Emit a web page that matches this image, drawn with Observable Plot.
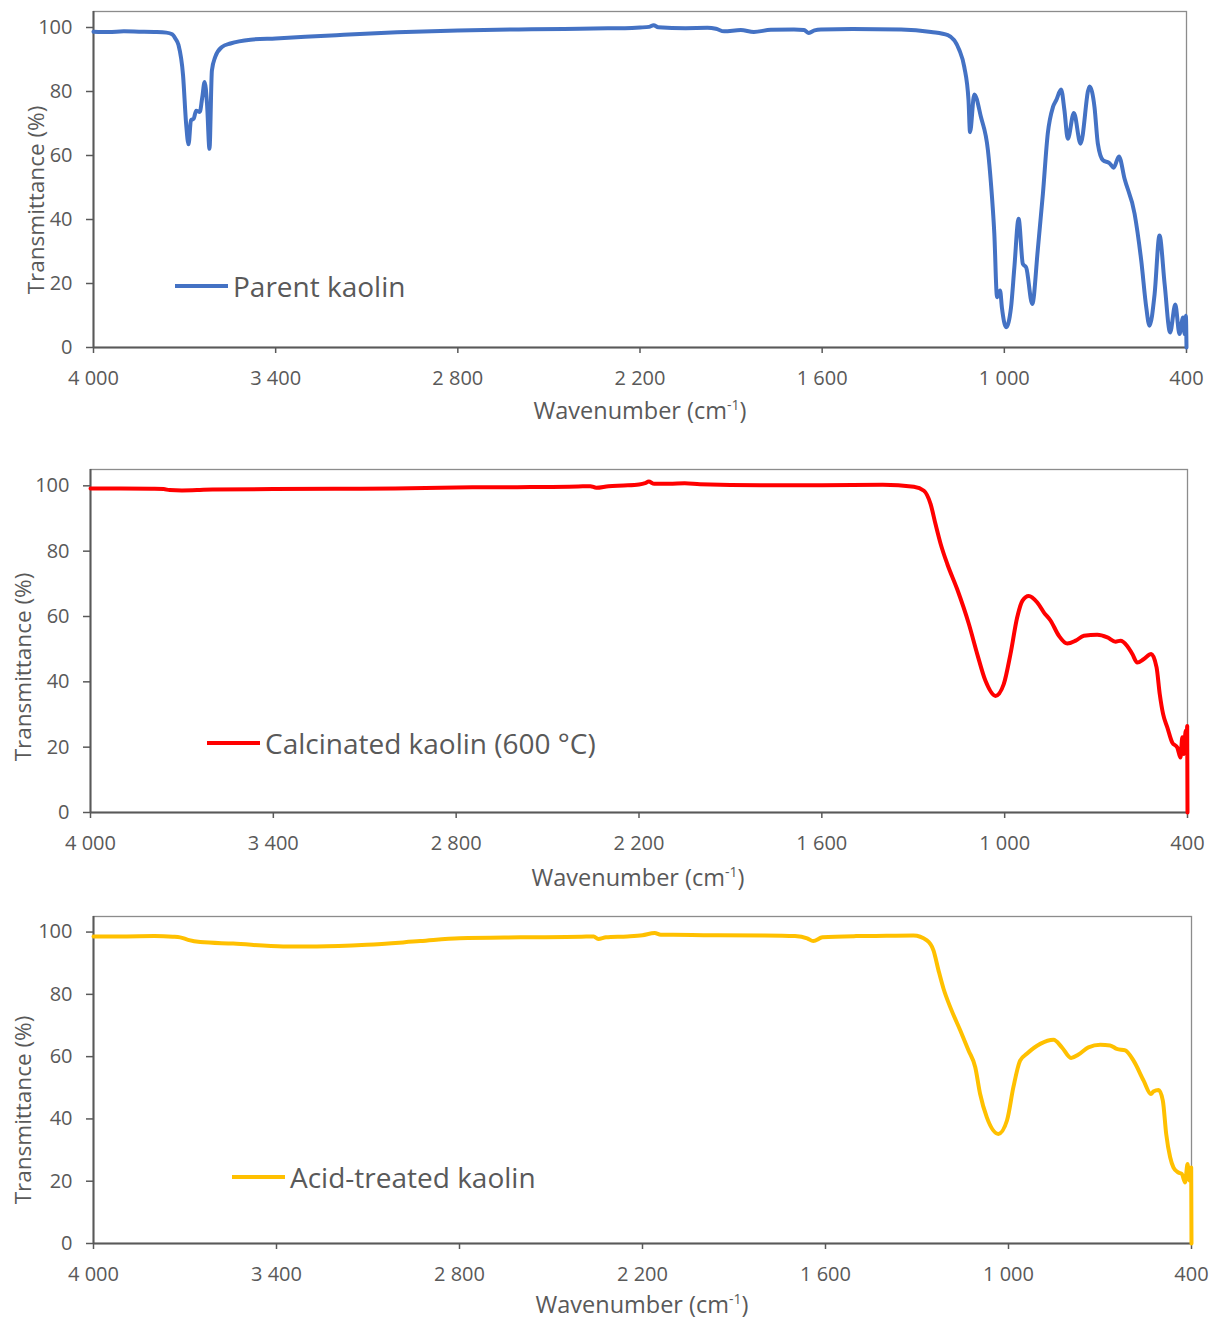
<!DOCTYPE html>
<html>
<head>
<meta charset="utf-8">
<script src="https://cdn.jsdelivr.net/npm/d3@7"></script>
<script src="https://cdn.jsdelivr.net/npm/@observablehq/plot@0.6"></script>
<style>
  body { margin: 0; background: #fff; font-family: "Open Sans", sans-serif; color: #595959; }
  #wrap { width: 1211px; }
  .panel { position: relative; width: 1211px; }
  .panel svg { display: block; }
  .ytitle { position: absolute; font-size: 22.5px; white-space: nowrap; transform: translate(-50%, -50%) rotate(-90deg); }
  .xtitle { position: absolute; font-size: 23.5px; white-space: nowrap; transform: translate(-50%, -50%); }
  .xtitle sup { font-size: 14px; vertical-align: 9px; line-height: 0; }
  .legend { position: absolute; display: flex; align-items: center; transform: translateY(-50%); font-size: 28px; white-space: nowrap; }
  .legend .swatch { display: inline-block; width: 53px; height: 4px; margin-right: 5px; }
</style>
</head>
<body>
<div id="wrap"></div>
<script>
// FTIR spectra: wavenumber (cm-1) and transmittance (%) for each sample
const parentWn = [4000, 3950, 3900, 3850, 3800, 3760, 3741, 3730, 3720, 3705, 3695, 3687, 3679, 3670, 3662, 3650, 3642, 3634, 3626, 3618, 3610, 3599, 3577, 3549, 3483, 3400, 3200, 3000, 2800, 2600, 2450, 2352, 2250, 2200, 2170, 2155, 2140, 2050, 1978, 1950, 1923, 1868, 1825, 1769, 1693, 1660, 1644, 1625, 1604, 1500, 1340, 1241, 1186, 1148, 1132, 1118, 1113, 1099, 1077, 1054, 1044, 1033, 1024, 1014, 1008, 994, 978, 967, 953, 939, 928, 908, 890, 873, 857, 840, 829, 813, 802, 791, 771, 749, 719.5, 703, 692, 675, 653.5, 640, 622.5, 604, 571, 549, 532.5, 522, 505, 489, 472, 454, 437, 423, 411.5, 406, 402, 400];
const parentT = [98.7, 98.6, 98.8, 98.7, 98.6, 98.4, 97.9, 96.5, 94.5, 85, 70, 63.5, 71, 71.5, 74, 73.6, 78, 83, 76, 62.1, 86.6, 90.8, 93.9, 95, 96.2, 96.6, 97.6, 98.5, 99.1, 99.4, 99.5, 99.7, 99.8, 100, 100.2, 100.7, 100.1, 99.8, 99.9, 99.6, 98.8, 99.2, 98.6, 99.3, 99.4, 99.2, 98.3, 99.1, 99.4, 99.5, 99.4, 98.6, 97.6, 92.9, 87.7, 77.3, 67.3, 79.1, 72, 61.6, 51.2, 35.6, 15.7, 17.8, 12.5, 6.3, 12.5, 25, 40.2, 26.1, 25, 13.6, 30.3, 48, 66.8, 75.1, 77.3, 80.6, 74.1, 65.2, 73.3, 63.7, 81.6, 75.1, 63.7, 58.5, 57.6, 56.2, 59.7, 52.7, 41.8, 27.1, 12.5, 6.8, 16.7, 35, 19.8, 4.7, 13.4, 4.2, 9.4, 4.2, 9.9, 0];

const calcWn = [4000, 3900, 3800, 3760, 3740, 3700, 3650, 3600, 3400, 3200, 3000, 2800, 2600, 2400, 2360, 2340, 2300, 2250, 2200, 2180, 2168, 2150, 2100, 2050, 2000, 1800, 1600, 1400, 1298, 1265, 1243, 1227, 1210, 1188, 1156, 1117.5, 1090, 1063, 1030, 1003, 981, 959, 942, 921, 893, 871, 849, 822, 794.5, 767, 740, 696, 663, 636, 620, 598, 581, 565, 543, 519, 501.5, 491, 480, 466, 450, 433.5, 423, 417, 412, 406, 403, 401, 400];
const calcT = [99.2, 99.2, 99.1, 99.0, 98.7, 98.6, 98.7, 98.9, 99.0, 99.1, 99.2, 99.5, 99.6, 99.8, 99.9, 99.4, 99.9, 100.1, 100.4, 100.8, 101.3, 100.6, 100.6, 100.8, 100.5, 100.2, 100.2, 100.3, 99.7, 98.5, 94.4, 88.3, 82.2, 76, 68.4, 57.7, 48.5, 40.3, 35.7, 39.3, 48.5, 59.7, 64.8, 66.3, 64.3, 61.2, 58.7, 54.1, 51.7, 52.6, 54.1, 54.4, 53.6, 52.3, 52.6, 51, 48.5, 45.9, 47, 48.5, 44.4, 36.2, 30.1, 26, 21.4, 19.9, 16.8, 23, 17.9, 25, 18.9, 26.5, 0];

const acidWn = [4000, 3900, 3800, 3740, 3716, 3690, 3650, 3542, 3378, 3268, 3104, 2929, 2800, 2600, 2400, 2360, 2345, 2320, 2250, 2200, 2160, 2140, 2100, 2000, 1800, 1700, 1660, 1640, 1610, 1500, 1400, 1311.5, 1267.5, 1246, 1229.5, 1213, 1191, 1158, 1131, 1109, 1093, 1071, 1033, 1005, 984, 962, 940, 896, 852.5, 825, 795, 770.5, 738, 699, 667, 645, 617, 590, 557, 533, 525, 508, 494, 483, 470, 459, 443, 431.5, 421, 413, 406.6, 401, 400];
const acidT = [98.6, 98.6, 98.7, 98.5, 98.3, 97.5, 96.8, 96.3, 95.4, 95.4, 95.9, 97.1, 98.0, 98.3, 98.5, 98.6, 97.8, 98.3, 98.6, 99.0, 99.7, 99.1, 99.1, 99.0, 98.9, 98.7, 98.0, 97.1, 98.3, 98.7, 98.8, 98.9, 97.3, 94.1, 87.7, 81.8, 75.9, 68.4, 62, 56.6, 48, 40.5, 35.2, 39.5, 50.2, 58.7, 60.9, 64.1, 65.4, 63, 59.6, 60.7, 63, 63.8, 63.6, 62.5, 62, 58.7, 52.3, 48, 48.8, 49.3, 45.9, 35.2, 27.7, 24.4, 22.8, 22.3, 19.6, 25.5, 20.2, 24.4, 0];

const xTicks = [4000, 3400, 2800, 2200, 1600, 1000, 400];
const yTicks = [0, 20, 40, 60, 80, 100];

const panels = [
  {name: "Parent kaolin", wn: parentWn, t: parentT, color: "#4472C4",
   h: 430, m: {l: 93, r: 25, t: 11, b: 83},
   ytitle: [35, 200], xtitle: [640, 410], legend: [175, 286]},
  {name: "Calcinated kaolin (600 °C)", wn: calcWn, t: calcT, color: "#FF0000",
   h: 460, m: {l: 90, r: 24, t: 39, b: 78},
   ytitle: [22, 237], xtitle: [638, 447], legend: [207, 313]},
  {name: "Acid-treated kaolin", wn: acidWn, t: acidT, color: "#FFC000",
   h: 428, m: {l: 93, r: 20, t: 26, b: 75},
   ytitle: [22, 220], xtitle: [642, 414], legend: [232, 287]}
];

const fmt = d => d3.format(",")(d).replace(",", " ");
const wrap = document.getElementById("wrap");

for (const p of panels) {
  const rows = p.wn.map((w, i) => ({wn: w, t: p.t[i]}));
  const chart = Plot.plot({
    width: 1211,
    height: p.h,
    marginLeft: p.m.l,
    marginRight: p.m.r,
    marginTop: p.m.t,
    marginBottom: p.m.b,
    style: {fontFamily: "'Open Sans', sans-serif", fontSize: "20px", color: "#595959", background: "#fff"},
    x: {domain: [4000, 400]},
    y: {domain: [0, 105]},
    marks: [
      Plot.frame({stroke: "#8c8c8c", strokeWidth: 1.3}),
      Plot.axisX({ticks: xTicks, tickFormat: fmt, tickSize: 6, tickPadding: 17, label: null, strokeWidth: 1.5}),
      Plot.axisY({ticks: yTicks, tickSize: 7, tickPadding: 14, label: null, strokeWidth: 1.5}),
      Plot.ruleX([4000], {stroke: "#595959", strokeWidth: 2}),
      Plot.ruleY([0], {stroke: "#595959", strokeWidth: 2}),
      Plot.line(rows, {x: "wn", y: "t", stroke: p.color, strokeWidth: 4, curve: "monotone-x"})
    ]
  });

  const div = document.createElement("div");
  div.className = "panel";
  div.style.height = p.h + "px";
  div.appendChild(chart);

  const yt = document.createElement("div");
  yt.className = "ytitle";
  yt.textContent = "Transmittance (%)";
  yt.style.left = p.ytitle[0] + "px";
  yt.style.top = p.ytitle[1] + "px";
  div.appendChild(yt);

  const xt = document.createElement("div");
  xt.className = "xtitle";
  xt.innerHTML = "Wavenumber (cm<sup>-1</sup>)";
  xt.style.left = p.xtitle[0] + "px";
  xt.style.top = p.xtitle[1] + "px";
  div.appendChild(xt);

  const lg = document.createElement("div");
  lg.className = "legend";
  lg.style.left = p.legend[0] + "px";
  lg.style.top = p.legend[1] + "px";
  const sw = document.createElement("span");
  sw.className = "swatch";
  sw.style.background = p.color;
  lg.appendChild(sw);
  const lt = document.createElement("span");
  lt.textContent = p.name;
  lg.appendChild(lt);
  div.appendChild(lg);

  wrap.appendChild(div);
}
</script>
</body>
</html>
